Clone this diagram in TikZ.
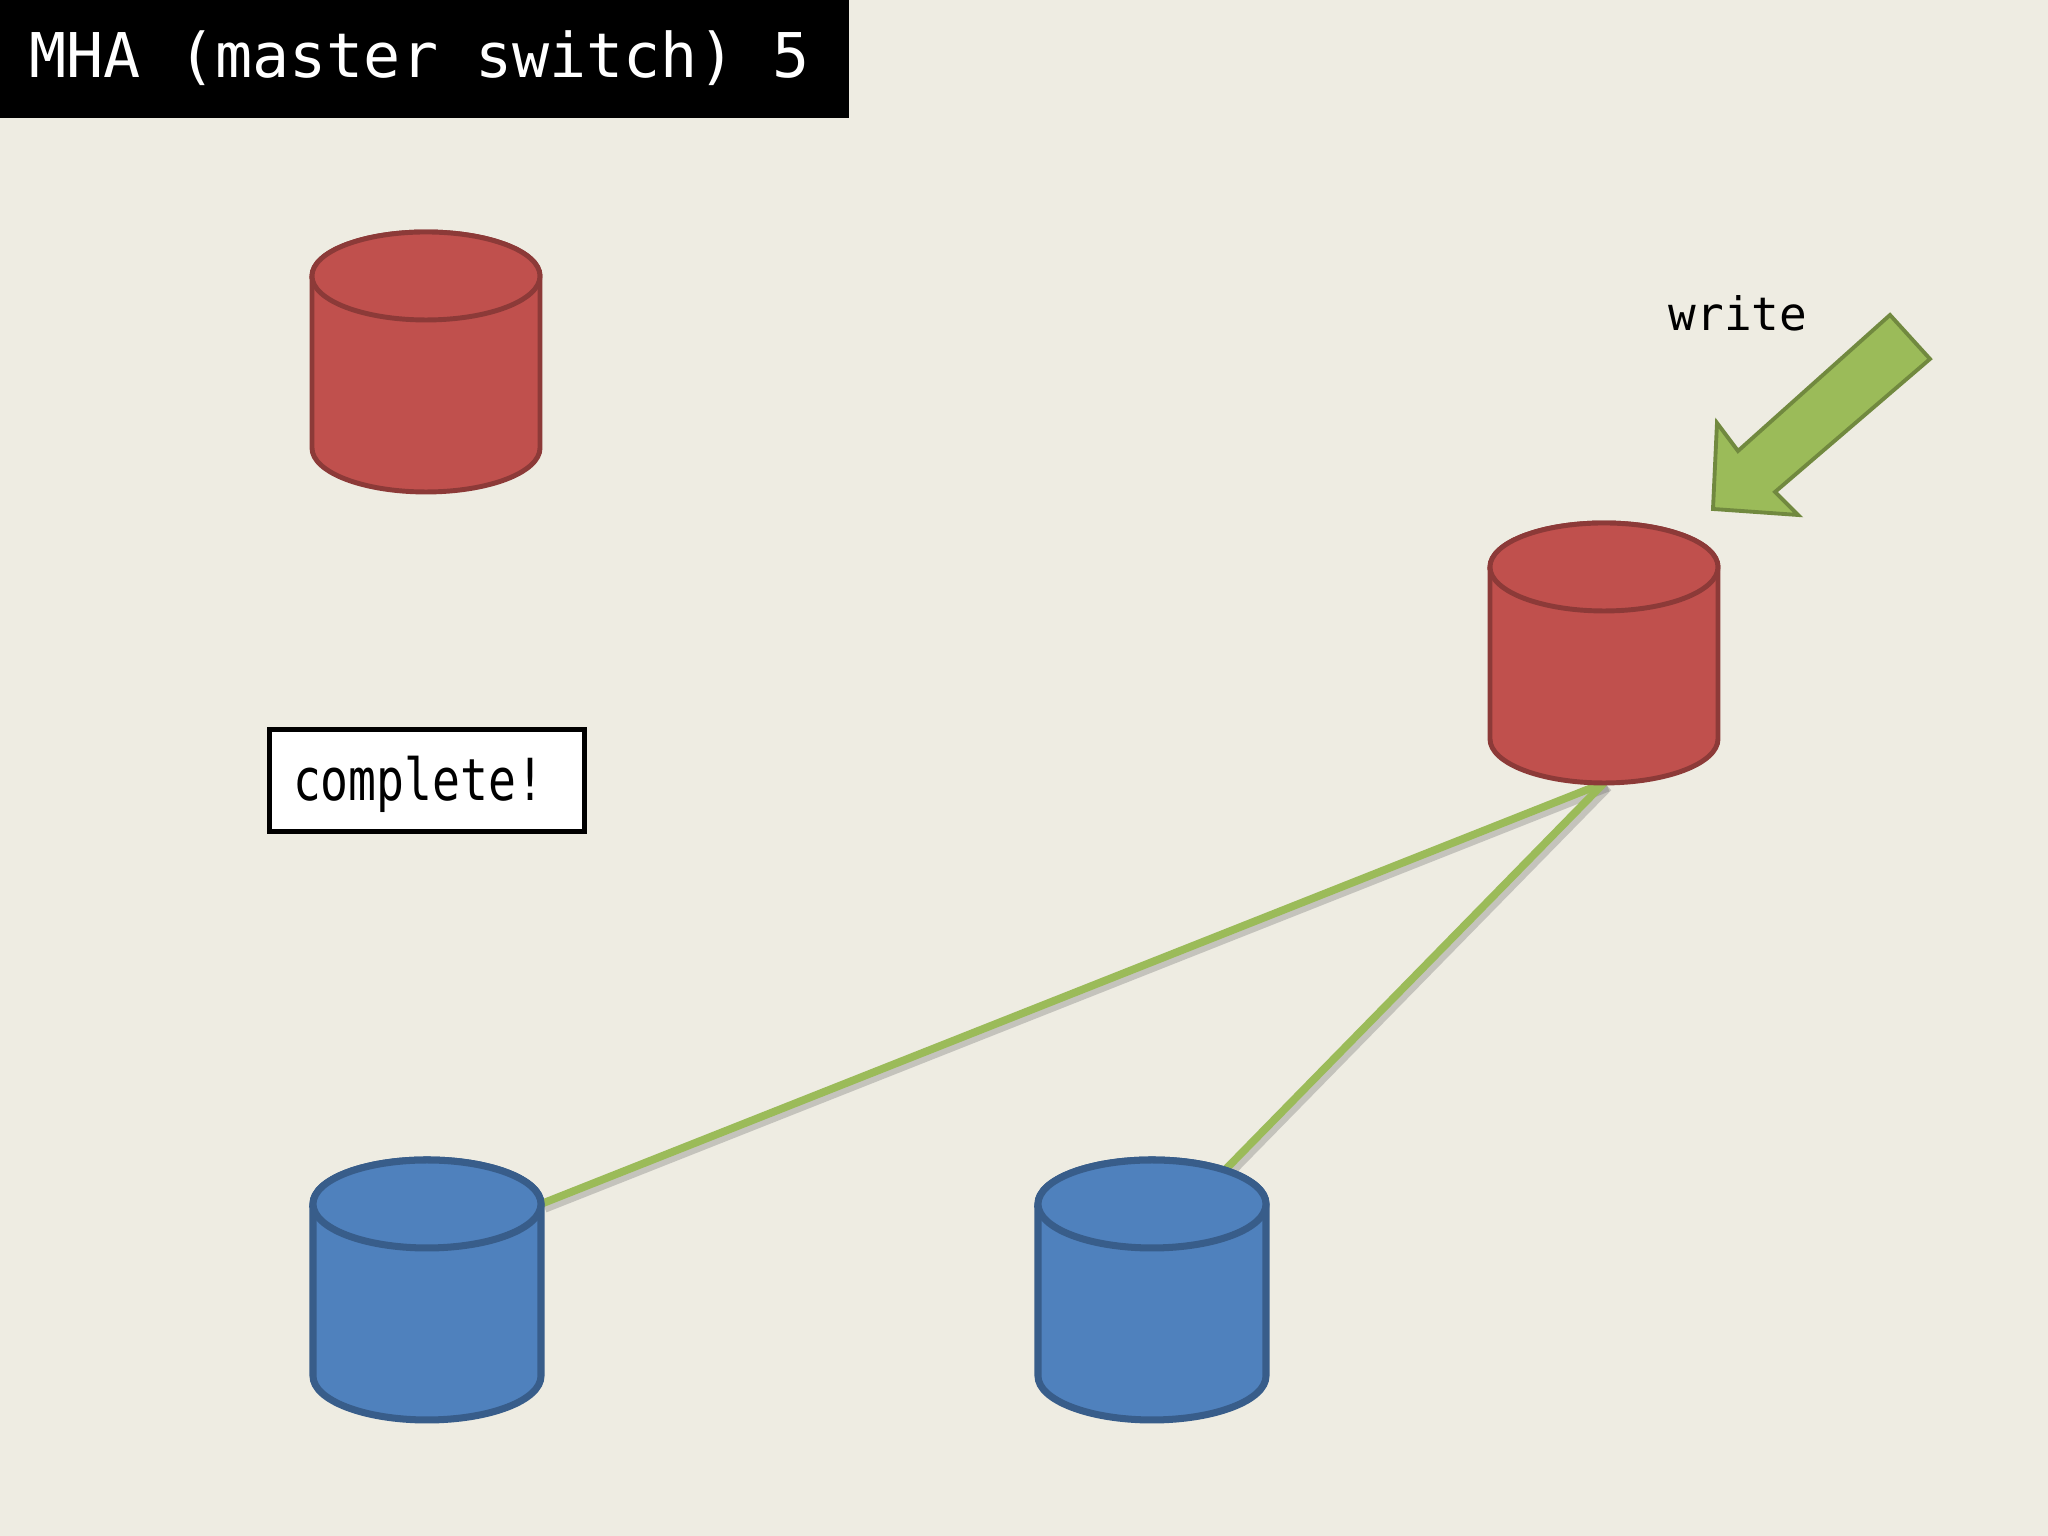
\documentclass[tikz,border=0pt]{standalone}
\usepackage{fontspec}
\newfontfamily\monofont{DejaVu Sans Mono}
\newfontfamily\narrowmono[FakeStretch=0.8]{DejaVu Sans Mono}
\definecolor{slidebg}{HTML}{EEECE2}
\definecolor{mred}{HTML}{C0504D}
\definecolor{mredline}{HTML}{8C3A38}
\definecolor{sblue}{HTML}{4F81BD}
\definecolor{sblueline}{HTML}{385D8A}
\definecolor{wgreen}{HTML}{9BBB59}
\definecolor{wgreenline}{HTML}{71893F}
\begin{document}
\begin{tikzpicture}[x=1cm,y=1cm,
	db/.pic={
		\path[pic actions] (-1.14,0.86) -- (-1.14,-0.86) arc[start angle=180,end angle=360,x radius=1.14cm,y radius=0.44cm]
			-- (1.14,0.86) arc[start angle=0,end angle=180,x radius=1.14cm,y radius=0.44cm] -- cycle;
		\path[pic actions] (0,0.86) ellipse[x radius=1.14cm,y radius=0.44cm];
		\coordinate (-bottom) at (0,-1.30);
		\coordinate (-east) at (1.14,0.86);
		\coordinate (-rim) at (0.73,1.20);
	},
	master/.style={fill=mred,draw=mredline,line width=1.4pt},
	slave/.style={fill=sblue,draw=sblueline,line width=2pt},
	repl/.style={draw=wgreen,line width=2.2pt},
	replshadow/.style={draw=black!60,opacity=0.3,line width=3pt,transform canvas={shift={(0.035,-0.035)}}}]
	\useasboundingbox[fill=slidebg] (0,0) rectangle (20.48,15.36);
	\fill[black] (0,14.18) rectangle (8.49,15.36);
	\node[anchor=base west,inner sep=0,text=white,font=\monofont\fontsize{17.55}{20}\selectfont] (title) at (0.29,14.58) {MHA (master switch) 5};
	\coordinate (newm-bottom) at (16.04,7.53);
	\coordinate (s1-east) at (5.41,3.32);
	\coordinate (s2-rim) at (12.25,3.66);
	\draw[replshadow] (newm-bottom) -- (s1-east);
	\draw[replshadow] (newm-bottom) -- (s2-rim);
	\draw[repl] (newm-bottom) -- (s1-east);
	\draw[repl] (newm-bottom) -- (s2-rim);
	\pic[master] (oldm) at (4.26,11.74) {db};
	\pic[master] (newm) at (16.04,8.83) {db};
	\pic[slave] (s1) at (4.27,2.46) {db};
	\pic[slave] (s2) at (11.52,2.46) {db};
	\draw[fill=wgreen,draw=wgreenline,line width=1.1pt] (18.90,12.21) -- (19.30,11.77) -- (17.75,10.44) -- (17.98,10.21)
		-- (17.13,10.27) -- (17.17,11.13) -- (17.38,10.85) -- cycle;
	\node[anchor=base,inner sep=0,font=\monofont\fontsize{13.1}{15}\selectfont] (wlabel) at (17.38,12.05) {write};
	\node[draw=black,fill=white,line width=1.4pt,minimum height=1.02cm,text width=2.68cm,inner xsep=0.235cm,align=left,
		text height=0.46cm,text depth=0.06cm,font=\narrowmono\fontsize{16.5}{20}\selectfont] (done) at (4.27,7.555) {complete!};
\end{tikzpicture}
\end{document}
